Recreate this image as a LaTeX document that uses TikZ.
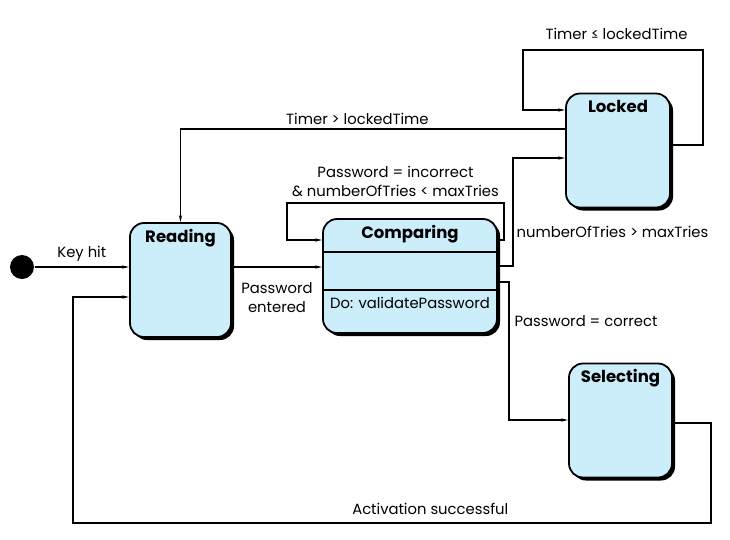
\documentclass[tikz,border=0pt]{standalone}
\usepackage{fontspec}
\setmainfont{Poppins}
\usetikzlibrary{positioning,shadows,arrows.meta}
\definecolor{statefill}{RGB}{204,238,250}

\begin{document}
\begin{tikzpicture}[x=1pt,y=-1pt,->,>={Stealth[length=7pt,width=3.2pt]},line width=1.2pt,
    state box/.style={draw,line width=1.8pt,fill=statefill,rounded corners=14pt,minimum width=#1,inner xsep=0pt,inner ysep=8pt,text height=11pt,text depth=87pt,font=\bfseries\fontsize{16.5}{19}\selectfont,drop shadow={shadow xshift=3pt,shadow yshift=-3pt,fill=black,opacity=1}},
    edge label/.style={font=\fontsize{14.8}{19}\selectfont,align=center,inner sep=2pt}]

    \useasboundingbox (0,0) rectangle (730,539);

    \node[circle,fill=black,minimum size=24pt,inner sep=0pt] (start) at (22,267) {};
    \node[state box=101pt] (reading) at (180.5,280) {Reading};
    \node[state box=174pt] (comparing) at (410,276) {Comparing};
    \node[state box=104pt] (locked) at (618,150.5) {Locked};
    \node[state box=103pt] (selecting) at (620.5,420.5) {Selecting};

    % compartments of the comparing state
    \draw[-,line width=1.5pt] (comparing.west |- 0,252) -- (comparing.east |- 0,252);
    \draw[-,line width=1.5pt] (comparing.west |- 0,290) -- (comparing.east |- 0,290);
    \node[edge label] (doaction) at (410,303) {Do: validatePassword};

    \draw (start) -- node[edge label,above=3pt]{Key hit} (reading.west |- start);
    \draw (reading.east |- start) -- node[edge label,below=13pt]{Password\\entered} (comparing.west |- start);

    \draw (comparing.east |- 0,240) -- ++(6,0) |- node[edge label,above=4pt,pos=.75]{Password = incorrect\\\& numberOfTries < maxTries} (287,203)
        |- (comparing.west |- 0,240);

    \draw (comparing.east |- 0,266) -| node[edge label,right=1pt,pos=.66]{numberOfTries > maxTries} (513,158)
        -- (locked.west |- 0,158);
    \draw (comparing.east |- 0,282) -| node[edge label,right=3pt,pos=.64]{Password = correct} (509,420)
        -- (selecting.west |- 0,420);

    \draw (locked.west |- 0,129) -| node[edge label,above=2pt,pos=.27]{Timer > lockedTime} (reading.north);
    \draw (locked.east |- 0,145) -| (703,50) -| node[edge label,above=8pt,pos=.24]{Timer ≤ lockedTime} (523,110)
        -- (locked.west |- 0,110);

    \draw (selecting.east |- 0,423) -| (711,523) -| node[edge label,above=6pt,pos=.22]{Activation successful} (73,297)
        -- (reading.west |- 0,297);

\end{tikzpicture}
\end{document}
